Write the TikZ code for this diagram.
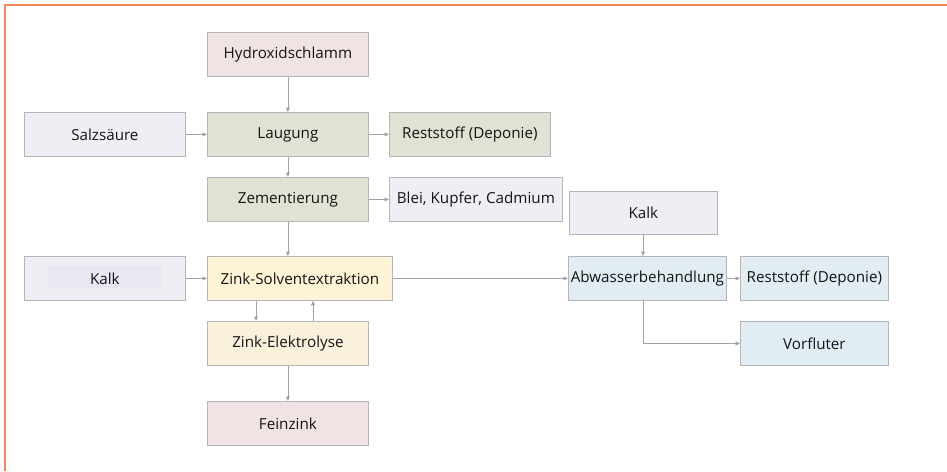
\documentclass[tikz,border=0pt]{standalone}
\usepackage{fontspec}
\setmainfont{Open Sans}
\usetikzlibrary{arrows.meta}
\definecolor{frame}{HTML}{F0885A}
\definecolor{edge}{HTML}{B4B4BA}
\definecolor{arr}{HTML}{A2A2AA}
\definecolor{cpink}{HTML}{EFE3E3}
\definecolor{clav}{HTML}{EFEEF5}
\definecolor{clavd}{HTML}{E9E8F2}
\definecolor{cgreen}{HTML}{DFE3D3}
\definecolor{cyel}{HTML}{FFF3D6}
\definecolor{cyel2}{HTML}{FAF1DC}
\definecolor{cblue}{HTML}{E2EDF3}
\tikzset{
  lbl/.style={font=\fontsize{15.2}{18}\selectfont, text=black!92},
  box/.style={lbl, draw=edge, line width=0.8pt, anchor=north west, inner sep=0pt},
  flow/.style={draw=arr, line width=0.8pt, -{Triangle[length=4.5pt,width=4pt]}}
}
\begin{document}
\begin{tikzpicture}[x=1pt,y=-1pt]
\useasboundingbox (0,0) rectangle (947,471);
\draw[frame, line width=1.6pt] (5,471) -- (5,5) -- (947,5);
% nodes
\node[box, fill=cpink, minimum width=161pt, minimum height=44pt] (hyd) at (207,32) {Hydroxidschlamm};
\node[box, fill=clav, minimum width=161pt, minimum height=44pt] (salz) at (24,112) {Salzsäure};
\node[box, fill=cgreen, minimum width=161pt, minimum height=44pt] (laug) at (207,112) {Laugung};
\node[box, fill=cgreen, minimum width=161pt, minimum height=44pt] (rest1) at (389,112) {Reststoff (Deponie)};
\node[box, fill=cgreen, minimum width=161pt, minimum height=44pt] (zem) at (207,177) {Zementierung};
\node[box, fill=clav, minimum width=173pt, minimum height=44pt] (blei) at (389,177) {Blei, Kupfer, Cadmium};
\node[box, fill=clav, minimum width=161pt, minimum height=44pt] (kalk1) at (24,256) {};
\fill[clavd] (48,266) rectangle (162,288);
\node[lbl] (kalk1t) at (kalk1.center) {Kalk};
\node[box, fill=cyel, minimum width=185pt, minimum height=44pt] (zse) at (207,256) {Zink-Solventextraktion};
\node[box, fill=cyel2, minimum width=161pt, minimum height=44pt] (elek) at (207,321) {Zink-Elektrolyse};
\node[box, fill=cpink, minimum width=161pt, minimum height=44pt] (fein) at (207,401) {Feinzink};
\node[box, fill=clav, minimum width=148pt, minimum height=43pt] (kalk2) at (569,191) {Kalk};
\node[box, fill=cblue, minimum width=158pt, minimum height=44pt] (abw) at (568,256) {Abwasserbehandlung};
\node[box, fill=cblue, minimum width=148pt, minimum height=44pt] (rest2) at (740,256) {Reststoff (Deponie)};
\node[box, fill=cblue, minimum width=148pt, minimum height=44pt] (vorf) at (740,321) {Vorfluter};
% connectors
\draw[flow] (hyd.south) -- (laug.north);
\draw[flow] (salz.east) -- (laug.west);
\draw[flow] (laug.east) -- (rest1.west);
\draw[flow] (laug.south) -- (zem.north);
\draw[flow] (zem.east) -- (blei.west);
\draw[flow] (zem.south) -- (zem.south |- zse.north);
\draw[flow] (kalk1.east) -- (zse.west);
\draw[flow] (zse.south -| 256,0) -- (elek.north -| 256,0);
\draw[flow] (elek.north -| 313,0) -- (zse.south -| 313,0);
\draw[flow] (elek.south) -- (fein.north);
\draw[flow] (zse.east) -- (abw.west);
\draw[flow] (kalk2.south -| 643,0) -- (abw.north -| 643,0);
\draw[flow] (abw.east) -- (rest2.west);
\draw[flow] (abw.south -| 643,0) |- (vorf.west);
\end{tikzpicture}
\end{document}
